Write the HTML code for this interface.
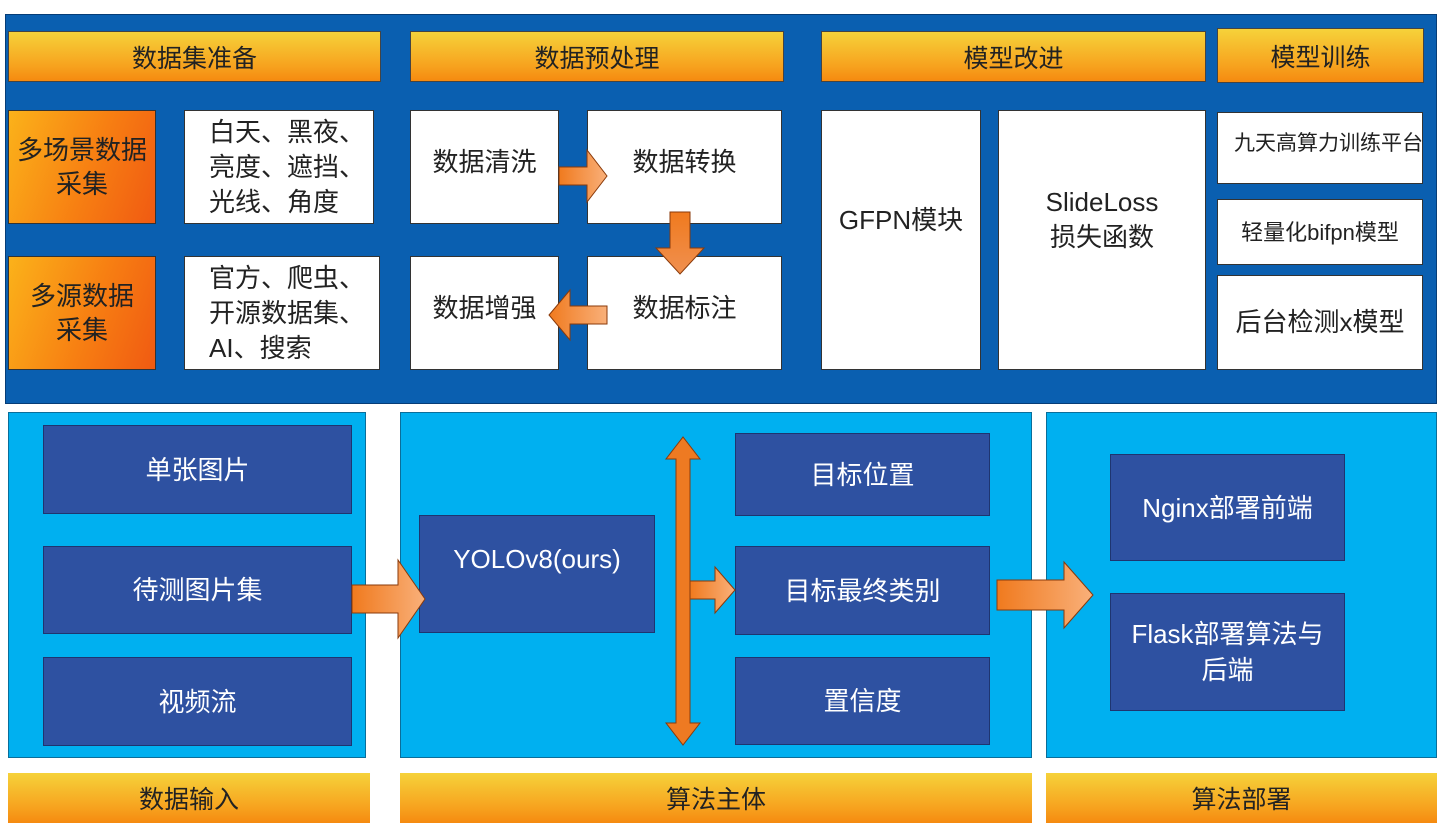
<!DOCTYPE html>
<html><head><meta charset="utf-8"><style>
body{margin:0;width:1443px;height:840px;background:#fff;position:relative;overflow:hidden;font-family:"Liberation Sans","Noto Sans CJK SC",sans-serif;}
div.b{position:absolute;box-sizing:border-box;display:flex;align-items:center;justify-content:center;text-align:center;}
.hd{background:linear-gradient(#f6d23a,#f7a21e 70%,#f58a10);border:1px solid #444;font-size:25px;color:#222;}
.or{background:linear-gradient(110deg,#fbb21a,#f77f12 55%,#f05a12);border:1px solid #333;font-size:26px;color:#222;line-height:34px;}
.wh{background:#fff;border:1px solid #333;font-size:26px;color:#222;line-height:35px;}
.dk{background:#2e51a1;border:1px solid #1e3570;font-size:26px;color:#fff;line-height:36px;}
.cy{background:#00b0f0;border:1px solid #0a6e9a;}
</style></head><body>
<div class="b" style="left:5px;top:14px;width:1432px;height:390px;background:#0a5fb0;border:1px solid #063d77"></div>
<div class="b hd" style="left:8px;top:31px;width:373px;height:51px">数据集准备</div>
<div class="b hd" style="left:410px;top:31px;width:374px;height:51px">数据预处理</div>
<div class="b hd" style="left:821px;top:31px;width:385px;height:51px">模型改进</div>
<div class="b hd" style="left:1217px;top:28px;width:207px;height:55px">模型训练</div>
<div class="b or" style="left:8px;top:110px;width:148px;height:114px">多场景数据<br>采集</div>
<div class="b or" style="left:8px;top:256px;width:148px;height:114px">多源数据<br>采集</div>
<div class="b wh" style="left:184px;top:110px;width:190px;height:114px;justify-content:flex-start;padding-left:24px;text-align:left">白天、黑夜、<br>亮度、遮挡、<br>光线、角度</div>
<div class="b wh" style="left:184px;top:256px;width:196px;height:114px;justify-content:flex-start;padding-left:24px;text-align:left">官方、爬虫、<br>开源数据集、<br>AI、搜索</div>
<div class="b wh" style="left:410px;top:110px;width:149px;height:114px;padding-bottom:10px">数据清洗</div>
<div class="b wh" style="left:587px;top:110px;width:195px;height:114px;padding-bottom:10px">数据转换</div>
<div class="b wh" style="left:410px;top:256px;width:149px;height:114px;padding-bottom:10px">数据增强</div>
<div class="b wh" style="left:587px;top:256px;width:195px;height:114px;padding-bottom:10px">数据标注</div>
<div class="b wh" style="left:821px;top:110px;width:160px;height:260px;padding-bottom:40px">GFPN模块</div>
<div class="b wh" style="left:998px;top:110px;width:208px;height:260px;padding-bottom:40px">SlideLoss<br>损失函数</div>
<div class="b wh" style="left:1217px;top:112px;width:206px;height:72px;font-size:21px;justify-content:flex-start;padding-left:16px;padding-bottom:10px;white-space:nowrap">九天高算力训练平台</div>
<div class="b wh" style="left:1217px;top:199px;width:206px;height:66px;font-size:22px">轻量化bifpn模型</div>
<div class="b wh" style="left:1217px;top:275px;width:206px;height:95px;font-size:26px">后台检测x模型</div>

<div class="b cy" style="left:8px;top:412px;width:358px;height:346px"></div>
<div class="b cy" style="left:400px;top:412px;width:632px;height:346px"></div>
<div class="b cy" style="left:1046px;top:412px;width:391px;height:346px"></div>
<div class="b dk" style="left:43px;top:425px;width:309px;height:89px">单张图片</div>
<div class="b dk" style="left:43px;top:546px;width:309px;height:88px">待测图片集</div>
<div class="b dk" style="left:43px;top:657px;width:309px;height:89px">视频流</div>
<div class="b dk" style="left:419px;top:515px;width:236px;height:118px;padding-bottom:30px">YOLOv8(ours)</div>
<div class="b dk" style="left:735px;top:433px;width:255px;height:83px">目标位置</div>
<div class="b dk" style="left:735px;top:546px;width:255px;height:89px">目标最终类别</div>
<div class="b dk" style="left:735px;top:657px;width:255px;height:88px">置信度</div>
<div class="b dk" style="left:1110px;top:454px;width:235px;height:107px">Nginx部署前端</div>
<div class="b dk" style="left:1110px;top:593px;width:235px;height:118px">Flask部署算法与<br>后端</div>
<div class="b hd" style="left:8px;top:773px;width:362px;height:50px;border:none">数据输入</div>
<div class="b hd" style="left:400px;top:773px;width:632px;height:50px;border:none">算法主体</div>
<div class="b hd" style="left:1046px;top:773px;width:391px;height:50px;border:none">算法部署</div>

<svg width="1443" height="840" style="position:absolute;left:0;top:0" >
<defs>
<linearGradient id="g" x1="0" y1="0" x2="1" y2="0"><stop offset="0" stop-color="#f07a1e"/><stop offset="1" stop-color="#f9b07a"/></linearGradient>
<linearGradient id="gv" x1="0" y1="0" x2="0" y2="1"><stop offset="0" stop-color="#f07a1e"/><stop offset="1" stop-color="#f09050"/></linearGradient>
</defs>
<g stroke="#8a3a0a" stroke-width="1" fill="url(#g)">
<polygon points="559,167 587,167 587,150 607,176 587,202 587,185 559,185"/>
<polygon points="670,212 690,212 690,248 704,248 680,274 656,248 670,248" fill="url(#gv)"/>
<polygon points="607,306 570,306 570,290 549,315 570,340 570,324 607,324"/>
<polygon points="352,585 398,585 398,560 425,599 398,638 398,613 352,613"/>
<polygon points="997,580 1064,580 1064,562 1093,595 1064,628 1064,610 997,610"/>
<polygon points="690,581 715,581 715,567 735,590 715,613 715,599 690,599"/>
<polygon points="676,459 666,459 683,437 700,459 690,459 690,723 700,723 683,745 666,723 676,723" fill="#ee7a22"/>
</g>
</svg>
</body></html>
